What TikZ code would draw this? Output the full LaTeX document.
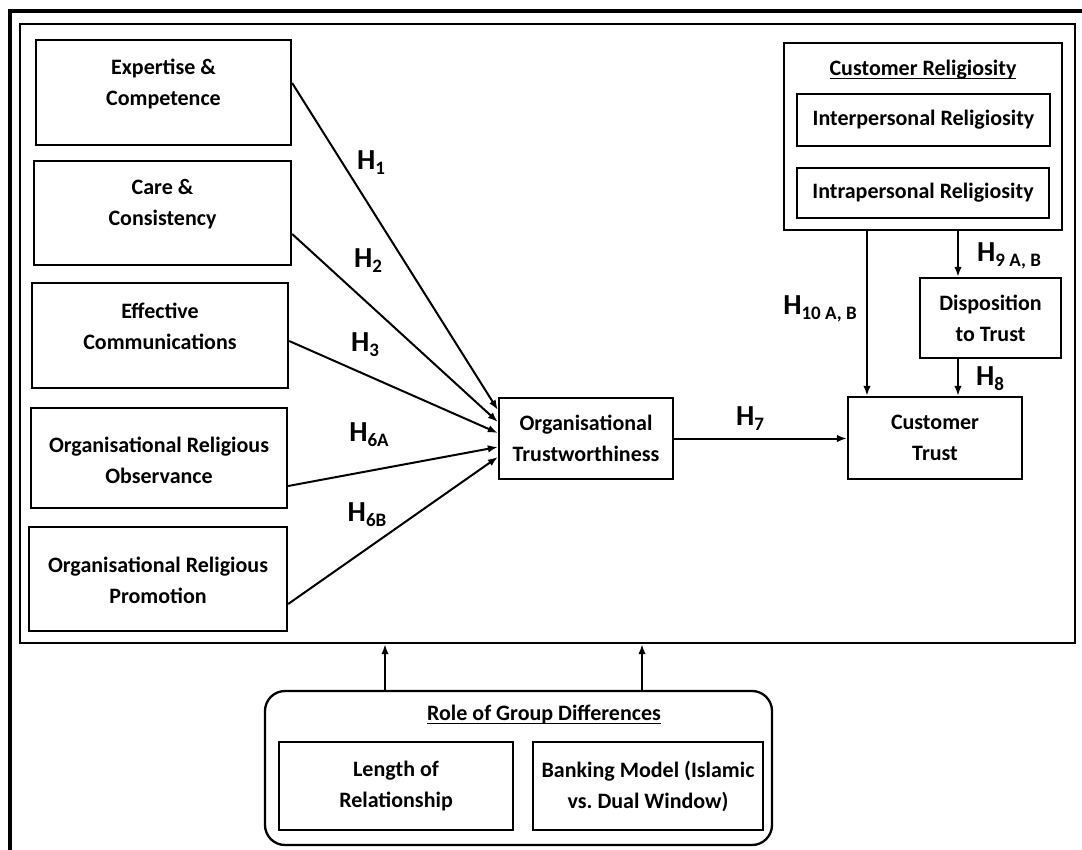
\documentclass[tikz,border=0pt]{standalone}
\usepackage{fontspec}
\setmainfont{Carlito}
\usetikzlibrary{arrows.meta,calc}

% hypothesis label: large H with a lowered, smaller index
\newcommand\hyp[1]{{\fontsize{29}{29}\selectfont H\raisebox{-5pt}{\fontsize{19}{19}\selectfont #1}}}
% underline drawn close to the baseline
\newcommand\undl[1]{\setbox0\hbox{#1}\rlap{\rule[-3.5pt]{\wd0}{1.6pt}}\box0}
\frenchspacing

\begin{document}
\begin{tikzpicture}[x=1pt,y=-1pt,
  every node/.style={font=\fontsize{22}{31}\selectfont\bfseries},
  box/.style={draw, line width=2.3pt, inner sep=0pt, align=center},
  txt/.style={align=center, inner sep=0pt},
  arr/.style={line width=2pt, -{Latex[length=10pt,width=7.5pt]}},
  hlab/.style={inner sep=0pt}
]
\useasboundingbox (0,0) rectangle (1082,850);
\clip (0,0) rectangle (1082,850);
\fill[white] (0,0) rectangle (1082,850);

% outer frame (runs past the right and bottom edges)
\draw[line width=4pt] (10,880) -- (10,11) -- (1110,11);

% inner frame holding the model
\node[draw, line width=2.4pt, inner sep=0pt, minimum width=1055pt, minimum height=619pt] (frame) at (547.5,333.5) {};

% antecedents
\node[box, minimum width=255pt, minimum height=105pt] (e1) at (163.5,92.5) {};
\node[txt] (e1t) at (163.5,84) {Expertise \&\\Competence};
\node[box, minimum width=257pt, minimum height=104pt] (e2) at (162.5,213) {};
\node[txt] (e2t) at (162.5,204) {Care \&\\Consistency};
\node[box, minimum width=256pt, minimum height=105pt] (e3) at (160,335.5) {};
\node[txt] (e3t) at (160,326) {Effective\\Communications};
\node[box, minimum width=256pt, minimum height=100pt] (e4) at (159,458) {};
\node[txt] (e4t) at (159,460) {Organisational Religious\\Observance};
\node[box, minimum width=258pt, minimum height=104pt] (e5) at (158,579) {};
\node[txt] (e5t) at (158,580) {Organisational Religious\\Promotion};

% mediator and outcome
\node[box, minimum width=174pt, minimum height=81pt] (ot) at (586,438.5) {Organisational\\Trustworthiness};
\node[box, minimum width=174pt, minimum height=82pt] (ct) at (935,438) {Customer\\Trust};
\node[box, minimum width=141pt, minimum height=80pt] (dt) at (990.5,318) {Disposition\\to Trust};

% customer religiosity block
\node[box, minimum width=278pt, minimum height=187pt] (cr) at (923,136.5) {};
\node[txt] (crt) at (923,70) {\undl{Customer Religiosity}};
\node[box, minimum width=253pt, minimum height=52pt] (ip) at (923.5,120) {Interpersonal Religiosity};
\node[box, minimum width=252pt, minimum height=50pt] (ra) at (923,193) {Intrapersonal Religiosity};

% paths into organisational trustworthiness
\draw[arr] ($(e1.east)+(0,-9.5)$) -- ($(ot.west)+(0,-28.5)$);
\draw[arr] ($(e2.east)+(0,21)$) -- ($(ot.west)+(0,-16.5)$);
\draw[arr] ($(e3.east)+(0,5.5)$) -- ($(ot.west)+(0,-5.5)$);
\draw[arr] ($(e4.east)+(0,28)$) -- ($(ot.west)+(0,8.5)$);
\draw[arr] ($(e5.east)+(0,25)$) -- ($(ot.west)+(0,18.5)$);
\draw[arr] (ot.east) -- (ot.east -| ct.west);

% religiosity paths
\coordinate (x10) at (867,0);
\coordinate (x9) at (958,0);
\draw[arr] (cr.south -| x10) -- (ct.north -| x10);
\draw[arr] (cr.south -| x9) -- (dt.north -| x9);
\draw[arr] (dt.south -| x9) -- (ct.north -| x9);

% hypothesis labels
\node[hlab] (h1) at (371,163) {\hyp{1}};
\node[hlab] (h2) at (368,261) {\hyp{2}};
\node[hlab] (h3) at (365,345) {\hyp{3}};
\node[hlab] (h6a) at (369,435) {\hyp{6A}};
\node[hlab] (h6b) at (367,515) {\hyp{6B}};
\node[hlab] (h7) at (750,419) {\hyp{7}};
\node[hlab] (h10) at (820,309) {\hyp{10 A, B}};
\node[hlab] (h9) at (1009,256) {\hyp{9 A, B}};
\node[hlab] (h8) at (990,379) {\hyp{8}};

% group differences
\node[draw, line width=2.3pt, rounded corners=20pt, inner sep=0pt, minimum width=507pt, minimum height=154pt] (rg) at (518.5,768) {};
\node[txt] (rgt) at (544,715) {\undl{Role of Group Differences}};
\node[box, minimum width=234pt, minimum height=88pt] (lr) at (396,786) {Length of\\Relationship};
\node[box, minimum width=230pt, minimum height=88pt] (bm) at (648,786) {Banking Model (Islamic\\vs. Dual Window)};
\coordinate (u1) at (385,0);
\coordinate (u2) at (642,0);
\draw[arr] (rg.north -| u1) -- (frame.south -| u1);
\draw[arr] (rg.north -| u2) -- (frame.south -| u2);
\end{tikzpicture}
\end{document}
